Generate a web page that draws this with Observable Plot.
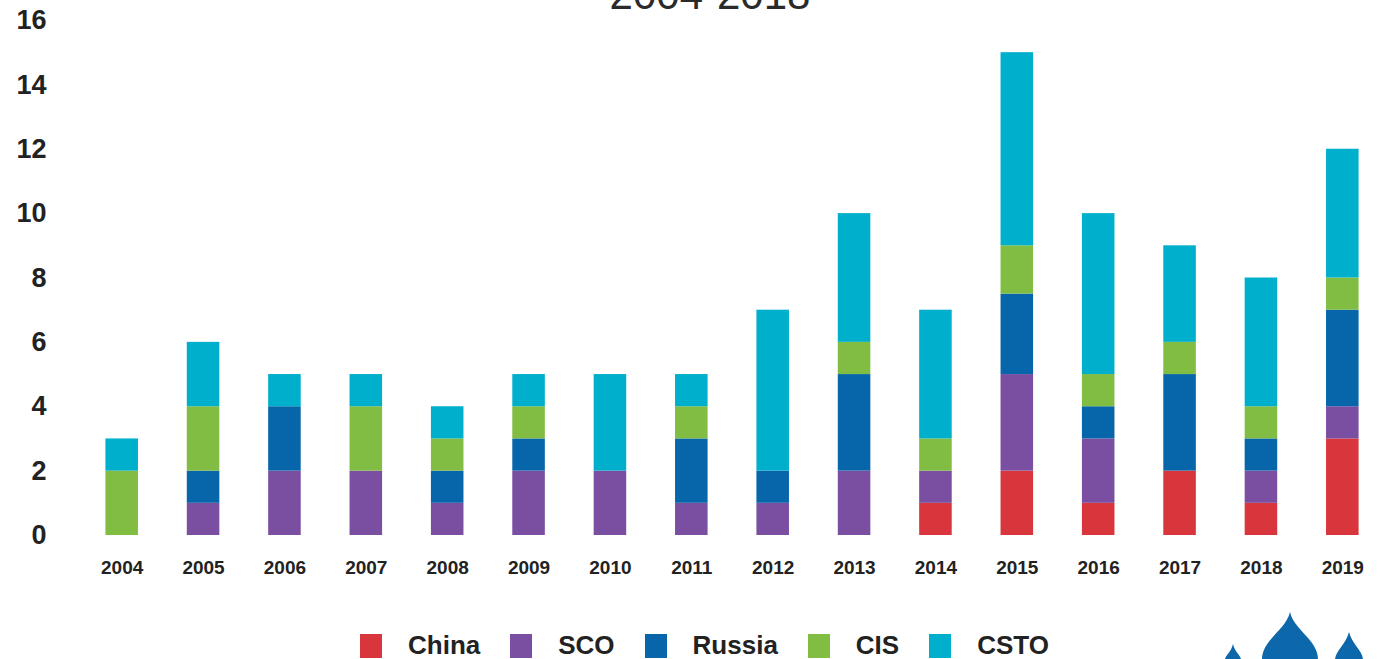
<!DOCTYPE html>
<html>
<head>
<meta charset="utf-8">
<script src="https://cdn.jsdelivr.net/npm/d3@7"></script>
<script src="https://cdn.jsdelivr.net/npm/@observablehq/plot@0.6"></script>
<style>
  html, body { margin: 0; padding: 0; background: #fff; overflow: hidden; }
  #wrap { position: relative; width: 1387px; height: 659px; font-family: "Liberation Sans", Arial, sans-serif; }
  #title { position: absolute; z-index: 2; top: -26px; left: 0; width: 1420px; text-align: center; font-size: 42px; line-height: 42px; color: #2a2a2a; }
  #chart { position: absolute; z-index: 1; top: 0; left: 0; }
  #legend { position: absolute; top: 630px; left: 360px; display: flex; align-items: center; font-weight: bold; font-size: 26px; color: #222; }
  #legend .item { display: flex; align-items: center; margin-right: 30px; }
  #legend .sw { width: 22px; height: 24px; margin-right: 26px; }
  #logo { position: absolute; left: 1200px; top: 600px; }
</style>
</head>
<body>
<div id="wrap">
  <div id="title">2004-2018</div>
  <div id="chart"></div>
  <div id="legend"></div>
  <svg id="logo" width="187" height="59" viewBox="0 0 187 59">
    <path d="M90 12 C86 30 62 40 62 59 L118 59 C118 40 94 30 90 12 Z" fill="#0d68ab"/>
    <path d="M33 44 C31 52 26 55 25 59 L41 59 C40 55 35 52 33 44 Z" fill="#0d68ab"/>
    <path d="M149 32 C146 44 136 50 135 59 L163 59 C162 50 152 44 149 32 Z" fill="#0d68ab"/>
  </svg>
</div>
<script>
const years  = ["2004","2005","2006","2007","2008","2009","2010","2011","2012","2013","2014","2015","2016","2017","2018","2019"];
const china  = [0, 0, 0, 0, 0, 0, 0, 0, 0, 0, 1, 2,   1, 2, 1, 3];
const sco    = [0, 1, 2, 2, 1, 2, 2, 1, 1, 2, 1, 3,   2, 0, 1, 1];
const russia = [0, 1, 2, 0, 1, 1, 0, 2, 1, 3, 0, 2.5, 1, 3, 1, 3];
const cis    = [2, 2, 0, 2, 1, 1, 0, 1, 0, 1, 1, 1.5, 1, 1, 1, 1];
const csto   = [1, 2, 1, 1, 1, 1, 3, 1, 5, 4, 4, 6,   5, 3, 4, 4];
const seriesNames = ["China", "SCO", "Russia", "CIS", "CSTO"];
const seriesColors = ["#d9353d", "#7a4ea1", "#0766aa", "#80bd42", "#00afcb"];
const yTicks = [0, 2, 4, 6, 8, 10, 12, 14, 16];

const seriesValues = [china, sco, russia, cis, csto];
const rows = [];
years.forEach((yr, i) => {
  seriesNames.forEach((s, j) => {
    const v = seriesValues[j][i];
    if (v > 0) rows.push({year: yr, series: s, value: v});
  });
});

const chart = Plot.plot({
  width: 1387,
  height: 600,
  marginTop: 20,
  marginBottom: 65,
  marginLeft: 81,
  marginRight: 4,
  style: {fontFamily: "'Liberation Sans', Arial, sans-serif", color: "#222", background: "transparent"},
  x: {domain: years, paddingInner: 0.6, paddingOuter: 0.3, round: false, label: null},
  y: {domain: [0, 16], ticks: yTicks, label: null},
  color: {domain: seriesNames, range: seriesColors},
  marks: [
    Plot.gridY(yTicks, {stroke: "#cfcfcf", strokeOpacity: 1, strokeWidth: 1.5, x1: 80, x2: 1387}),
    Plot.barY(rows, {x: "year", y: "value", fill: "series", order: null}),
    Plot.axisY(yTicks, {tickSize: 0, tickPadding: 35, fontSize: 27, fontWeight: "bold", label: null, tickFormat: d => String(d)}),
    Plot.axisX({tickSize: 0, tickPadding: 25, fontSize: 19, fontWeight: "bold", label: null})
  ]
});
document.getElementById("chart").appendChild(chart);

const legend = document.getElementById("legend");
seriesNames.forEach((s, j) => {
  const item = document.createElement("div");
  item.className = "item";
  const sw = document.createElement("div");
  sw.className = "sw";
  sw.style.background = seriesColors[j];
  const t = document.createElement("span");
  t.textContent = s;
  item.appendChild(sw);
  item.appendChild(t);
  legend.appendChild(item);
});
</script>
</body>
</html>
